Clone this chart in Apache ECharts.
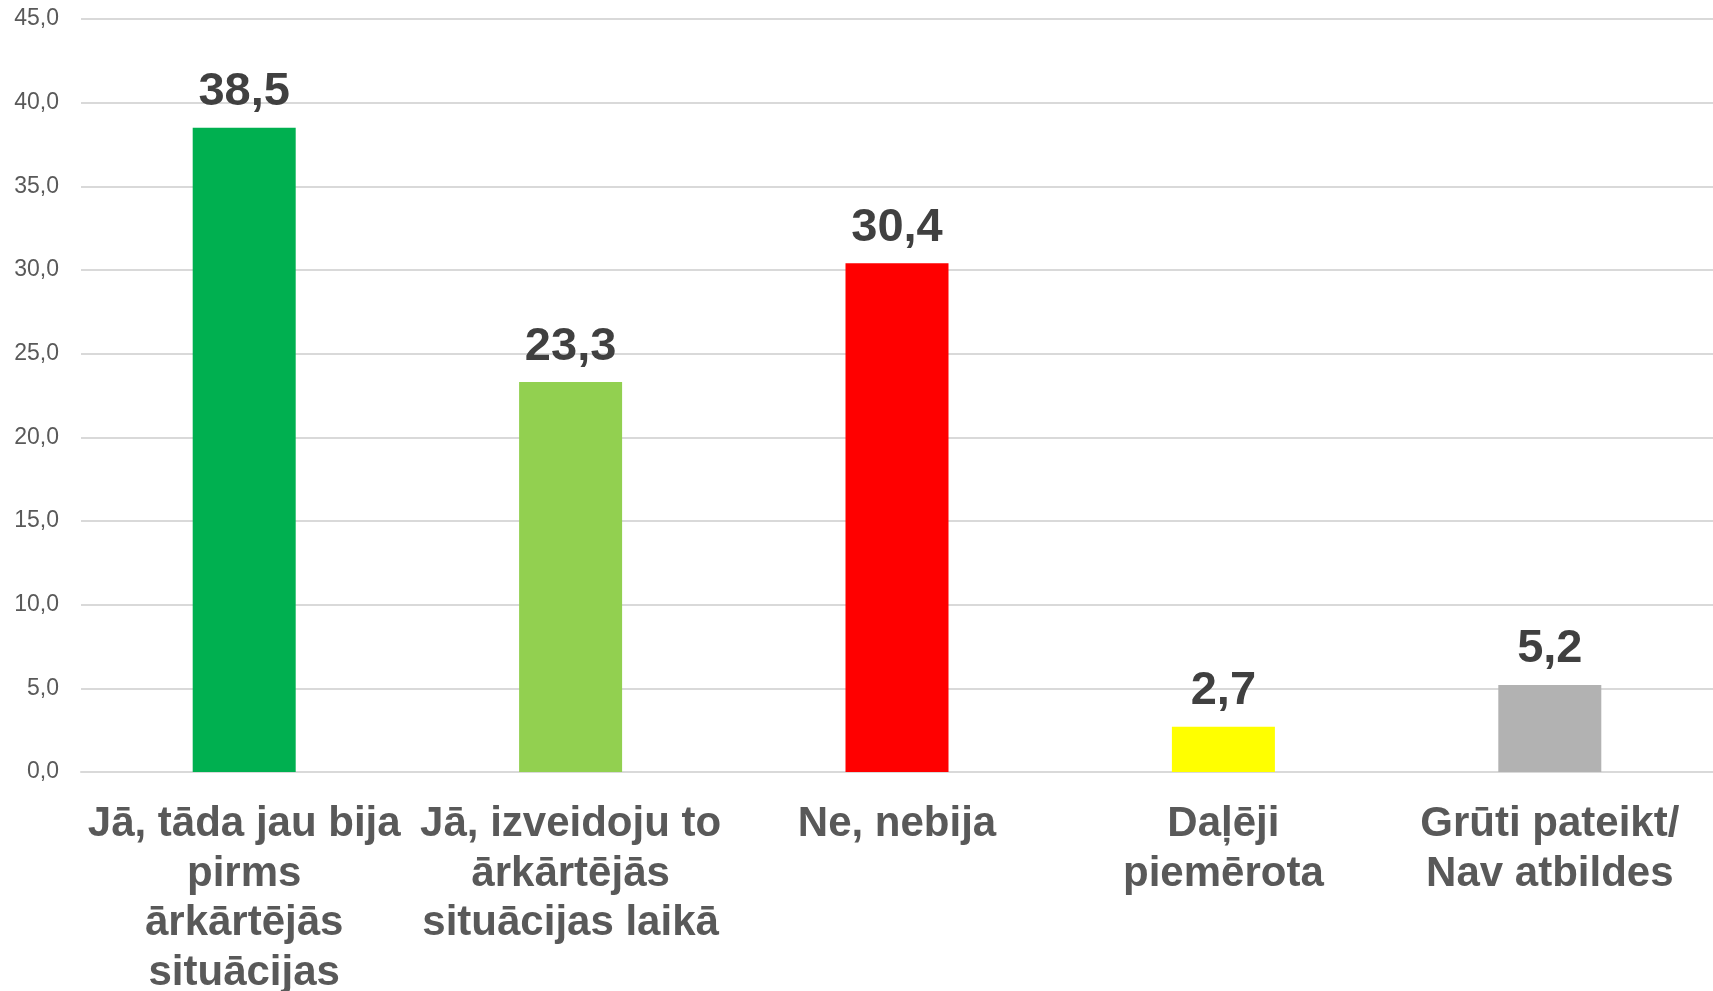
<!DOCTYPE html>
<html>
<head>
<meta charset="utf-8">
<script src="https://cdn.jsdelivr.net/npm/echarts@6/dist/echarts.min.js"></script>
<style>
  html, body { margin: 0; padding: 0; background: #fff; }
  #main { width: 1713px; height: 991px; }
</style>
</head>
<body>
<div id="main"></div>
<script>
// dati
var categories = [
  'Jā, tāda jau bija\npirms\nārkārtējās\nsituācijas',
  'Jā, izveidoju to\nārkārtējās\nsituācijas laikā',
  'Ne, nebija',
  'Daļēji\npiemērota',
  'Grūti pateikt/\nNav atbildes'
];
var values = [38.5, 23.3, 30.4, 2.7, 5.2];
var barColors = ['#00B050', '#92D050', '#FF0000', '#FFFF00', '#B2B2B2'];
var yMin = 0;
var yMax = 45;
var yStep = 5;

function comma(v) {
  return v.toFixed(1).replace('.', ',');
}

var chart = echarts.init(document.getElementById('main'));
var option = {
  animation: false,
  grid: { left: 81, right: 0, top: 19, bottom: 219, containLabel: false, outerBoundsMode: 'none' },
  xAxis: {
    type: 'category',
    data: categories,
    axisLine: { show: true, lineStyle: { color: '#D9D9D9', width: 2 } },
    axisTick: { show: false },
    axisLabel: {
      interval: 0,
      margin: 28,
      color: '#595959',
      fontFamily: 'Liberation Sans, Arial, sans-serif',
      fontWeight: 'bold',
      fontSize: 42,
      lineHeight: 49.5
    }
  },
  yAxis: {
    type: 'value',
    min: yMin,
    max: yMax,
    interval: yStep,
    axisLine: { show: false },
    axisTick: { show: false },
    splitLine: { lineStyle: { color: '#D9D9D9', width: 2 } },
    axisLabel: {
      margin: 22,
      color: '#595959',
      fontFamily: 'Liberation Sans, Arial, sans-serif',
      fontSize: 23,
      formatter: function (v) { return comma(v); }
    }
  },
  series: [{
    type: 'bar',
    barWidth: 103,
    data: values.map(function (v, i) {
      return { value: v, itemStyle: { color: barColors[i] } };
    }),
    label: {
      show: true,
      position: 'top',
      distance: 12,
      color: '#404040',
      fontFamily: 'Liberation Sans, Arial, sans-serif',
      fontWeight: 'bold',
      fontSize: 47,
      formatter: function (p) { return comma(p.value); }
    }
  }]
};
chart.setOption(option);
</script>
</body>
</html>
